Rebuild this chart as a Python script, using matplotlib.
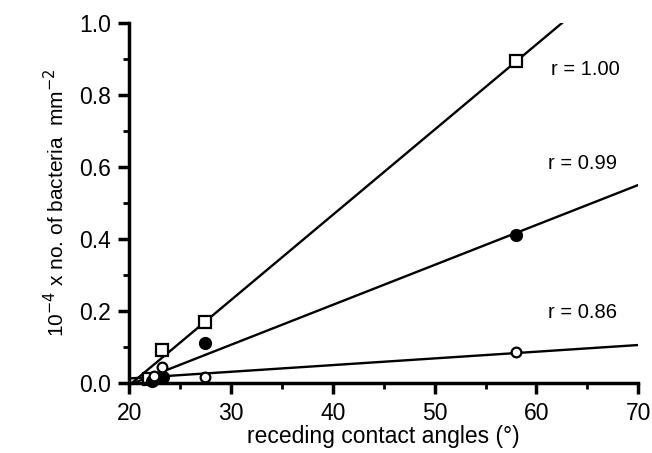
import matplotlib
matplotlib.use("Agg")
import matplotlib.pyplot as plt
from matplotlib.ticker import MultipleLocator

# -----------------------------------------
# DATA
# -----------------------------------------

sq_x = [22.0, 23.2, 27.5, 58.0]
sq_y = [0.01, 0.09, 0.17, 0.895]

fc_x = [22.2, 23.3, 27.5, 58.0]
fc_y = [0.005, 0.015, 0.11, 0.41]

oc_x = [22.4, 23.2, 27.5, 58.0]
oc_y = [0.02, 0.045, 0.015, 0.085]

# regression lines (end points)
sq_fit_x = [20.3, 62.5]
sq_fit_y = [0.0, 1.0]
fc_fit_x = [20.5, 70.0]
fc_fit_y = [0.0, 0.55]
oc_fit_x = [20.0, 70.0]
oc_fit_y = [0.012, 0.105]

r_labels = ["r = 1.00", "r = 0.99", "r = 0.86"]
r_pos = [(61.4, 0.87), (61.1, 0.61), (61.1, 0.195)]

# -----------------------------------------
# PLOT
# -----------------------------------------

plt.rcParams["font.family"] = ["Liberation Sans", "DejaVu Sans"]

fig = plt.figure(figsize=(6.52, 4.53), dpi=100)
ax = fig.add_axes([0.198, 0.155, 0.781, 0.794])

ax.plot(sq_fit_x, sq_fit_y, color="black", lw=1.7)
ax.plot(fc_fit_x, fc_fit_y, color="black", lw=1.7)
ax.plot(oc_fit_x, oc_fit_y, color="black", lw=1.7)

ax.plot(sq_x, sq_y, "s", ms=8, mfc="white", mec="black", mew=1.6, ls="none", clip_on=False)
ax.plot(fc_x, fc_y, "o", ms=8.5, mfc="black", mec="black", ls="none", clip_on=False)
ax.plot(oc_x, oc_y, "o", ms=7, mfc="white", mec="black", mew=1.6, ls="none", clip_on=False)

for lab, (tx, ty) in zip(r_labels, r_pos):
    ax.text(tx, ty, lab, fontsize=14.5, ha="left", va="center")

ax.set_xlim(20, 70)
ax.set_ylim(0, 1.0)
ax.xaxis.set_major_locator(MultipleLocator(10))
ax.xaxis.set_minor_locator(MultipleLocator(5))
ax.yaxis.set_major_locator(MultipleLocator(0.2))
ax.yaxis.set_minor_locator(MultipleLocator(0.1))
ax.yaxis.set_major_formatter(plt.FuncFormatter(lambda v, p: f"{v:.1f}"))

for s in ["top", "right"]:
    ax.spines[s].set_visible(False)
for s in ["left", "bottom"]:
    ax.spines[s].set_linewidth(2.5)

ax.tick_params(which="major", length=8, width=2.5, labelsize=16.5, direction="out")
ax.tick_params(which="minor", length=4, width=2, direction="out")
ax.tick_params(axis="x", pad=6)
ax.tick_params(axis="y", pad=5)

ax.set_xlabel("receding contact angles (°)", fontsize=16.5, labelpad=0)
ax.set_ylabel(r"10$^{-4}$ x no. of bacteria  mm$^{-2}$", fontsize=15, labelpad=8)

fig.savefig("out.png", dpi=100)
